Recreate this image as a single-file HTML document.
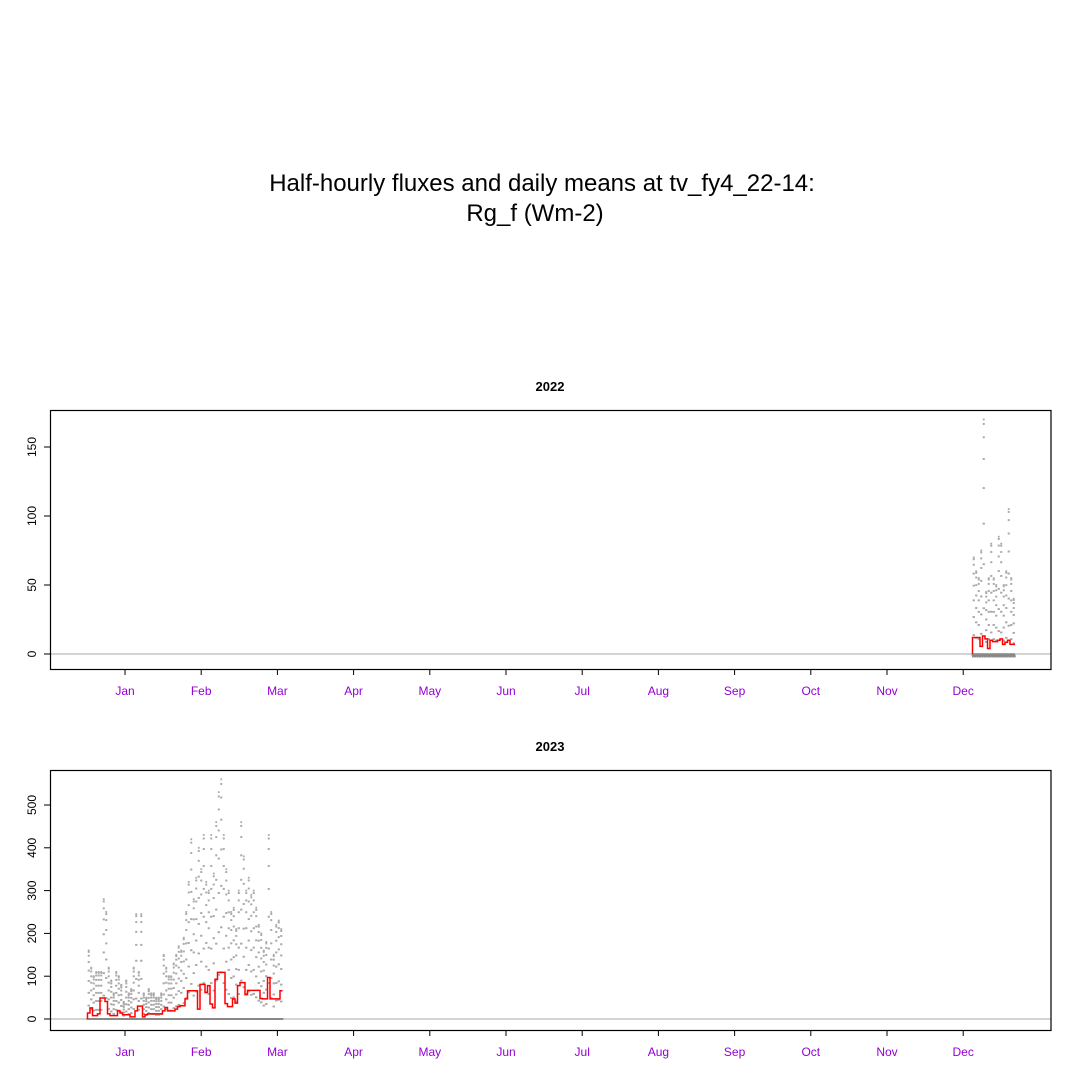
<!DOCTYPE html>
<html><head><meta charset="utf-8"><style>
body{margin:0;background:#fff;}
svg{display:block;font-family:"Liberation Sans",Arial,sans-serif;}
</style></head><body>
<svg id="chart" width="1080" height="1080" viewBox="0 0 1080 1080">
<rect width="1080" height="1080" fill="#fff"/>
<text x="542" y="191" text-anchor="middle" font-size="24">Half-hourly fluxes and daily means at tv_fy4_22-14:</text>
<text x="535" y="221" text-anchor="middle" font-size="24">Rg_f (Wm-2)</text>
<g id="p1"></g>
<g id="p2"></g>
</svg>
<script>
const months = ["Jan","Feb","Mar","Apr","May","Jun","Jul","Aug","Sep","Oct","Nov","Dec"];
const ticks2022 = [0,50,100,150];
const ticks2023 = [0,100,200,300,400,500];
const start2022 = 339;
const mean2022 = [12,12,12,5.5,13,11,4,10,9,9,10,11,7,8.5,10,7,7];
const max2022 = [70,60,55,75,170,45,55,80,55,50,85,80,50,60,105,55,40];
const start2023 = -15;
const mean2023 = [14,26,8,8,12,49,49,41,12,8,8,8,19,14,10,10,10,5,5,19,30,30,5,10,12,12,12,12,12,12,19,27,19,19,19,23,29,31,31,47,66,66,66,66,23,81,81,62,78,35,26,93,109,109,109,36,29,29,47,37,78,85,85,57,67,67,67,67,67,48,47,47,97,47,47,47,47,66];
const max2023 = [160,120,100,110,110,110,280,250,120,90,60,110,100,80,40,90,60,70,120,245,110,245,60,50,70,60,60,50,50,60,150,120,100,100,130,150,170,160,190,250,320,420,280,330,400,350,430,320,300,430,340,460,530,560,430,350,300,250,260,210,300,460,380,300,330,290,300,260,220,200,160,180,430,250,150,220,230,210];

const NS="http://www.w3.org/2000/svg";
function mk(parent,tag,attrs){const e=document.createElementNS(NS,tag);for(const k in attrs)e.setAttribute(k,attrs[k]);parent.appendChild(e);return e;}

function panel(g,cfg){
  const {top,bottom,y0px,pxPerUnit,ticks,start,means,maxs,year,neg}=cfg;
  const X=d=>125+d*2.5;
  const Y=v=>y0px-v*pxPerUnit;
  const t=mk(g,"text",{x:550,y:top-19,"text-anchor":"middle","font-size":13,"font-weight":"bold"});
  t.textContent=year;
  
  
  const zl=mk(g,"line",{x1:50,x2:1051,y1:Y(0),y2:Y(0),stroke:"#bbb","stroke-width":1.2});
  
  
  const pts=mk(g,"g",{});
  
  
  maxs.forEach((m,i)=>{
    for(let h=0;h<48;h++){
      const hr=h/2;
      let v=0;
      if(hr>=8&&hr<=16) v=m*Math.sin(Math.PI*(hr-8)/8);
      else if(neg) { if(h%4!==0) continue; v=-((h%3)+1)*0.6; }
      else if(h%2!==0) continue;
      const x=X(start+i+h/48);
      const c=(v<=0)?"#888":"#aaa";
      mk(pts,"rect",{x:x-0.9,y:Y(v)-0.9,width:1.8,height:1.8,fill:c});
    }
  });
  let d="";
  means.forEach((v,i)=>{
    const x1=X(start+i),x2=X(start+i+1),y=Y(v);
    d+=(i===0?"M"+x1+","+Y(0)+" L":" L")+x1+","+y+" L"+x2+","+y;
  });
  const p=mk(g,"path",{d:d,fill:"none",stroke:"#f00","stroke-width":1.5});
  
  
  const box=mk(g,"rect",{x:50.5,y:top+0.5,width:1000.5,height:bottom-top,fill:"none",stroke:"#000","stroke-width":1.2});
  
  
  ticks.forEach(v=>{
    const y=Y(v);
    mk(g,"line",{x1:44,x2:50,y1:y,y2:y,stroke:"#000"});
    const tl=mk(g,"text",{x:0,y:0,transform:`translate(36,${y}) rotate(-90)`,"text-anchor":"middle","font-size":12});
    tl.textContent=v;
    
    
  });
  months.forEach((m,i)=>{
    const x=125+i*76.2;
    mk(g,"line",{x1:x,x2:x,y1:bottom,y2:bottom+6,stroke:"#000"});
    const ml=mk(g,"text",{x:x,y:bottom+26,"text-anchor":"middle","font-size":12,fill:"#9400D3"});
    ml.textContent=m;
    
    
  });
}
panel(document.getElementById("p1"),{top:410,bottom:669,y0px:654,pxPerUnit:69/50,ticks:ticks2022,start:start2022,means:mean2022,maxs:max2022,year:"2022",neg:true});
panel(document.getElementById("p2"),{top:770,bottom:1030,y0px:1019,pxPerUnit:0.428,ticks:ticks2023,start:start2023,means:mean2023,maxs:max2023,year:"2023",neg:false});
</script>
</body></html>
